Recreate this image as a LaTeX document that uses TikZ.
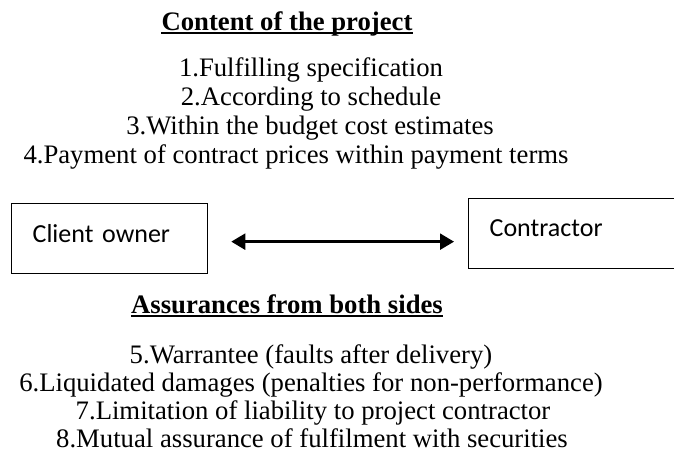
\documentclass[tikz,border=0pt]{standalone}
\usepackage{fontspec}
\setmainfont{Liberation Serif}
\newfontfamily\partyfont{Carlito}
\usepackage{tikz}
\usetikzlibrary{arrows.meta,calc}
\tikzset{item/.style={anchor=base, inner sep=0pt, font=\fontsize{26.7}{29}\selectfont}}
\tikzset{heading/.style={item, font=\fontsize{26.7}{29}\selectfont\bfseries}}
\tikzset{party/.style={draw, line width=1.3pt, inner ysep=0pt, inner xsep=21pt, anchor=north west, align=left, minimum height=70pt, text height=17pt, font=\partyfont\fontsize{26}{29}\selectfont}}
\tikzset{twoway/.style={line width=2.4pt, {Triangle[length=14pt,width=16pt]}-{Triangle[length=14pt,width=16pt]}}}
\newcommand{\uline}[1]{\draw[line width=2pt] ([yshift=-3pt]#1.base west) -- ([yshift=-3pt]#1.base east)}

\begin{document}
\begin{tikzpicture}[x=1pt, y=-1pt]
\useasboundingbox (0,0) rectangle (674,455);
% what the project has to deliver
\draw (287,30) node[heading](content) {Content of the project};
\uline{content};
  \draw (311,76) node[item](i1) {1.Fulfilling specification};
  \draw (311,105) node[item](i2) {2.According to schedule};
  \draw (310,134) node[item](i3) {3.Within the budget cost estimates};
  \draw (296,163) node[item](i4) {4.Payment of contract prices within payment terms};
% the two parties
\draw (11,203) node[party, text width=154pt, text depth=10pt](client) {Client owner};
\draw (468,198) node[party, text width=166pt, text depth=12pt](contractor) {Contractor};
\draw[twoway] ($(client.east)+(23,3)$) -- ($(contractor.west |- client.east)+(-14,3)$);
% what each side guarantees
\draw (287,313) node[heading](assure) {Assurances from both sides};
\uline{assure};
  \draw (311,363) node[item](i5) {5.Warrantee (faults after delivery)};
  \draw (311,391) node[item](i6) {6.Liquidated damages (penalties for non-performance)};
  \draw (313,419) node[item](i7) {7.Limitation of liability to project contractor};
  \draw (312,447) node[item](i8) {8.Mutual assurance of fulfilment with securities};
\end{tikzpicture}
\end{document}
